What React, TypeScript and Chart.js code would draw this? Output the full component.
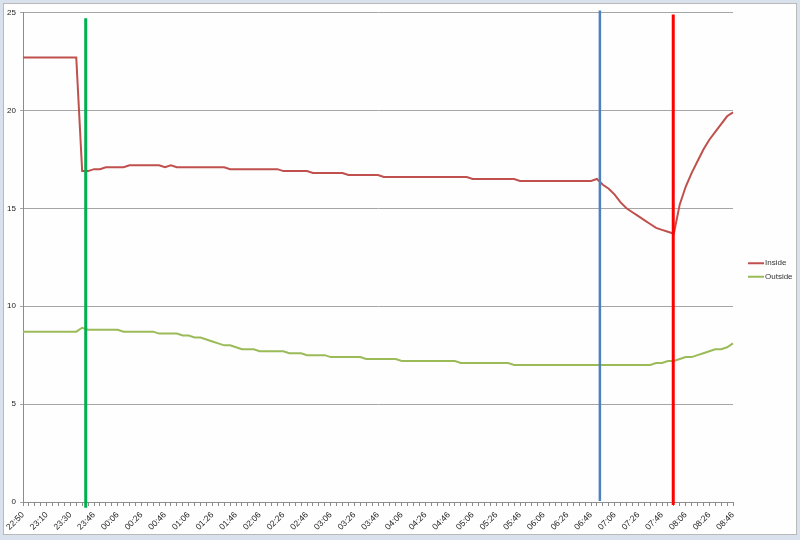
import React, { useEffect, useRef } from "react";
import { Chart, registerables } from "chart.js";

Chart.register(...registerables);

const timeLabels = [
  "22:50", "22:55", "23:00", "23:05", "23:10", "23:15", "23:20", "23:25",
  "23:30", "23:34", "23:38", "23:42", "23:46", "23:51", "23:56", "00:01",
  "00:06", "00:11", "00:16", "00:21", "00:26", "00:31", "00:36", "00:41",
  "00:46", "00:51", "00:56", "01:01", "01:06", "01:11", "01:16", "01:21",
  "01:26", "01:31", "01:36", "01:41", "01:46", "01:51", "01:56", "02:01",
  "02:06", "02:11", "02:16", "02:21", "02:26", "02:31", "02:36", "02:41",
  "02:46", "02:51", "02:56", "03:01", "03:06", "03:11", "03:16", "03:21",
  "03:26", "03:31", "03:36", "03:41", "03:46", "03:51", "03:56", "04:01",
  "04:06", "04:11", "04:16", "04:21", "04:26", "04:31", "04:36", "04:41",
  "04:46", "04:51", "04:56", "05:01", "05:06", "05:11", "05:16", "05:21",
  "05:26", "05:31", "05:36", "05:41", "05:46", "05:51", "05:56", "06:01",
  "06:06", "06:11", "06:16", "06:21", "06:26", "06:31", "06:36", "06:41",
  "06:46", "06:51", "06:56", "07:01", "07:06", "07:11", "07:16", "07:21",
  "07:26", "07:31", "07:36", "07:41", "07:46", "07:51", "07:56", "08:01",
  "08:06", "08:11", "08:16", "08:21", "08:26", "08:31", "08:36", "08:41",
  "08:46",
];

const insideTemp = [
  22.7, 22.7, 22.7, 22.7, 22.7, 22.7, 22.7, 22.7, 22.7, 22.7,
  16.9, 16.9, 17.0, 17.0, 17.1, 17.1, 17.1, 17.1, 17.2, 17.2,
  17.2, 17.2, 17.2, 17.2, 17.1, 17.2, 17.1, 17.1, 17.1, 17.1,
  17.1, 17.1, 17.1, 17.1, 17.1, 17.0, 17.0, 17.0, 17.0, 17.0,
  17.0, 17.0, 17.0, 17.0, 16.9, 16.9, 16.9, 16.9, 16.9, 16.8,
  16.8, 16.8, 16.8, 16.8, 16.8, 16.7, 16.7, 16.7, 16.7, 16.7,
  16.7, 16.6, 16.6, 16.6, 16.6, 16.6, 16.6, 16.6, 16.6, 16.6,
  16.6, 16.6, 16.6, 16.6, 16.6, 16.6, 16.5, 16.5, 16.5, 16.5,
  16.5, 16.5, 16.5, 16.5, 16.4, 16.4, 16.4, 16.4, 16.4, 16.4,
  16.4, 16.4, 16.4, 16.4, 16.4, 16.4, 16.4, 16.5, 16.2, 16.0,
  15.7, 15.3, 15.0, 14.8, 14.6, 14.4, 14.2, 14.0, 13.9, 13.8,
  13.7, 15.2, 16.1, 16.8, 17.4, 18.0, 18.5, 18.9, 19.3, 19.7,
  19.9,
];

const outsideTemp = [
  8.7, 8.7, 8.7, 8.7, 8.7, 8.7, 8.7, 8.7, 8.7, 8.7,
  8.9, 8.8, 8.8, 8.8, 8.8, 8.8, 8.8, 8.7, 8.7, 8.7,
  8.7, 8.7, 8.7, 8.6, 8.6, 8.6, 8.6, 8.5, 8.5, 8.4,
  8.4, 8.3, 8.2, 8.1, 8.0, 8.0, 7.9, 7.8, 7.8, 7.8,
  7.7, 7.7, 7.7, 7.7, 7.7, 7.6, 7.6, 7.6, 7.5, 7.5,
  7.5, 7.5, 7.4, 7.4, 7.4, 7.4, 7.4, 7.4, 7.3, 7.3,
  7.3, 7.3, 7.3, 7.3, 7.2, 7.2, 7.2, 7.2, 7.2, 7.2,
  7.2, 7.2, 7.2, 7.2, 7.1, 7.1, 7.1, 7.1, 7.1, 7.1,
  7.1, 7.1, 7.1, 7.0, 7.0, 7.0, 7.0, 7.0, 7.0, 7.0,
  7.0, 7.0, 7.0, 7.0, 7.0, 7.0, 7.0, 7.0, 7.0, 7.0,
  7.0, 7.0, 7.0, 7.0, 7.0, 7.0, 7.0, 7.1, 7.1, 7.2,
  7.2, 7.3, 7.4, 7.4, 7.5, 7.6, 7.7, 7.8, 7.8, 7.9,
  8.1,
];

const seriesNames = ["Inside", "Outside"];
const seriesColors = ["#c0504d", "#9bbb59"];

// vertical marker lines: category index (fractional), top value, bottom value
const markerIndex = [10.6, 97.5, 109.9];
const markerTop = [24.7, 25.1, 24.9];
const markerBottom = [-0.3, 0.05, -0.15];
const markerColors = ["#00b050", "#4f81bd", "#ff0000"];
const markerWidths = [3, 2.5, 3];

const FONT = "'Liberation Sans', Arial, sans-serif";

const markerPlugin = {
  id: "markerLines",
  afterDatasetsDraw(chart: any) {
    const { ctx, scales } = chart;
    const x = scales.x;
    const y = scales.y;
    markerIndex.forEach((idx, i) => {
      const px = x.getPixelForValue(idx);
      ctx.save();
      ctx.strokeStyle = markerColors[i];
      ctx.lineWidth = markerWidths[i];
      ctx.beginPath();
      ctx.moveTo(px, y.getPixelForValue(markerTop[i]));
      ctx.lineTo(px, y.getPixelForValue(markerBottom[i]));
      ctx.stroke();
      ctx.restore();
    });
  },
};

const legendPlugin = {
  id: "sideLegend",
  afterDraw(chart: any) {
    const { ctx, chartArea } = chart;
    const x0 = chartArea.right + 15;
    const cy = chart.height / 2;
    const gap = 13.5;
    ctx.save();
    ctx.font = `8px ${FONT}`;
    ctx.textBaseline = "middle";
    ctx.textAlign = "left";
    seriesNames.forEach((name, i) => {
      const yy = cy - gap / 2 + i * gap;
      ctx.strokeStyle = seriesColors[i];
      ctx.lineWidth = 2;
      ctx.beginPath();
      ctx.moveTo(x0, yy);
      ctx.lineTo(x0 + 16, yy);
      ctx.stroke();
      ctx.fillStyle = "#333";
      ctx.fillText(name, x0 + 17, yy);
    });
    ctx.restore();
  },
};

export default function App() {
  const ref = useRef<HTMLCanvasElement | null>(null);

  useEffect(() => {
    if (!ref.current) return;
    const chart = new Chart(ref.current, {
      type: "line",
      data: {
        labels: timeLabels,
        datasets: seriesNames.map((name, i) => ({
          label: name,
          data: i === 0 ? insideTemp : outsideTemp,
          borderColor: seriesColors[i],
          backgroundColor: seriesColors[i],
          borderWidth: 2,
          pointRadius: 0,
          tension: 0,
          fill: false,
        })),
      },
      options: {
        animation: false,
        responsive: false,
        devicePixelRatio: 1,
        layout: { padding: { left: 0, right: 67, top: 12.5, bottom: 0 } },
        plugins: {
          legend: { display: false },
          tooltip: { enabled: false },
        },
        scales: {
          x: {
            type: "category",
            offset: false,
            grid: {
              display: true,
              drawOnChartArea: false,
              drawTicks: true,
              tickLength: 4,
              color: "#8c8c8c",
            },
            border: { display: true, color: "#8c8c8c" },
            ticks: {
              autoSkip: false,
              maxRotation: 45,
              minRotation: 45,
              padding: 4,
              color: "#222",
              font: { family: FONT, size: 8.5 },
              callback: (_v: any, idx: number) =>
                idx % 4 === 0 ? timeLabels[idx] : "",
            },
            afterFit: (scale: any) => {
              scale.height = 38;
            },
          },
          y: {
            min: 0,
            max: 25,
            grid: {
              color: "#a6a6a6",
              drawTicks: true,
              tickLength: 3,
            },
            border: { display: true, color: "#8c8c8c" },
            ticks: {
              stepSize: 5,
              padding: 4,
              color: "#222",
              font: { family: FONT, size: 8 },
            },
            afterFit: (scale: any) => {
              scale.width = 23;
            },
          },
        },
      },
      plugins: [markerPlugin, legendPlugin],
    });
    return () => chart.destroy();
  }, []);

  return (
    <div
      style={{
        position: "absolute",
        left: 0,
        top: 0,
        width: 800,
        height: 540,
        background: "#d8e1ec",
      }}
    >
      <div
        style={{
          position: "absolute",
          left: 3,
          top: 3,
          width: 792,
          height: 530,
          background: "#fdfefd",
          border: "1px solid #b9b9b9",
        }}
      />
      <canvas
        ref={ref}
        width={800}
        height={540}
        style={{ position: "absolute", left: 0, top: 0, width: 800, height: 540 }}
      />
    </div>
  );
}
